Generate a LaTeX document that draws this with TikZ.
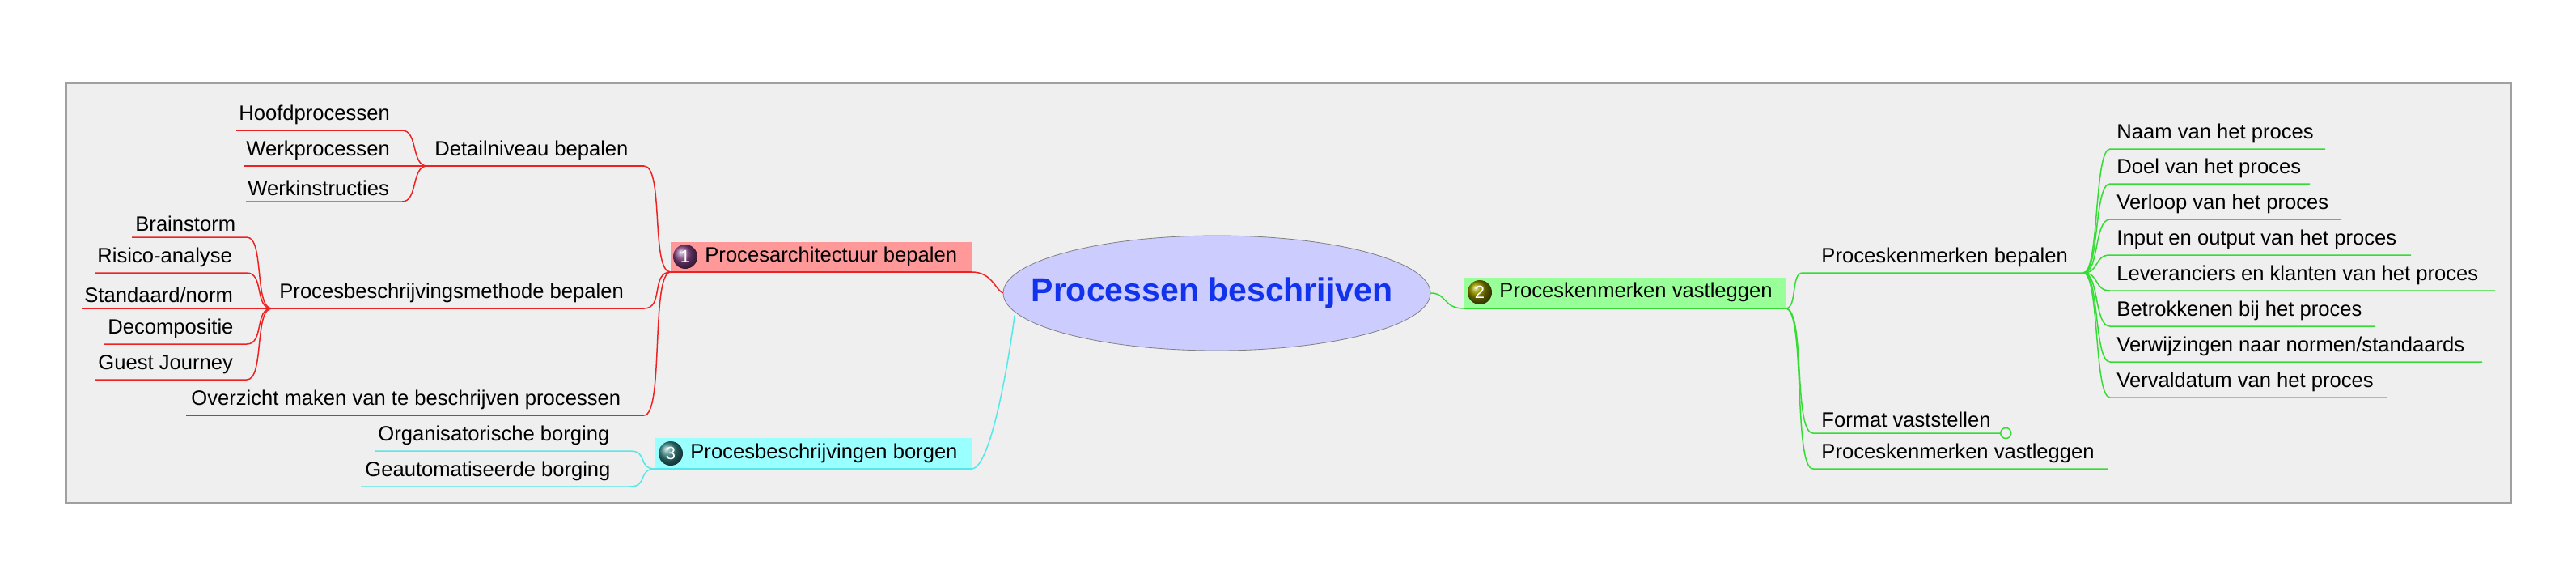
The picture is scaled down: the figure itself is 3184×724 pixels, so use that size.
\documentclass[tikz,border=0pt]{standalone}
\usepackage{fontspec}
\usetikzlibrary{shapes.geometric}
\setmainfont{Liberation Sans}
\definecolor{bg}{HTML}{EFEFEF}
\definecolor{frame}{HTML}{A0A0A0}
\definecolor{cred}{HTML}{EE2222}
\definecolor{cgreen}{HTML}{33DD33}
\definecolor{ccyan}{HTML}{55E8E8}
\definecolor{fred}{HTML}{FF9999}
\definecolor{fgreen}{HTML}{99FF99}
\definecolor{fcyan}{HTML}{99FFFF}
\definecolor{ctitle}{HTML}{1133EE}
\definecolor{fell}{HTML}{CCCCFF}
\begin{document}
\begin{tikzpicture}[x=0.5pt,y=-0.5pt,
  lbl/.style={font=\fontsize{12.8}{14}\selectfont,inner sep=0pt,anchor=south west},
  rl/.style={draw=cred,line width=0.75pt},
  gl/.style={draw=cgreen,line width=0.75pt},
  cl/.style={draw=ccyan,line width=0.75pt},
  icon/.style={circle,minimum size=15pt,inner sep=0pt,text=white,font=\fontsize{11}{11}\selectfont}]
\useasboundingbox (0,0) rectangle (3184,724);
\draw[fill=bg,draw=frame,line width=1.5pt] (81,102) rectangle (3103,621);
% central
\node[ellipse,draw=gray,fill=fell,minimum width=264pt,minimum height=71pt,inner sep=0pt] (root) at (1504,362) {};
\node[text=ctitle,font=\bfseries\fontsize{20.5}{24}\selectfont] (roottxt) at (1498,362) {Processen beschrijven};
% main topics
\fill[fred] (829,299) rectangle (1201,336);
\node[icon,ball color=violet!50!gray] (i1) at (847,317) {1};
\node[lbl] (t1) at (871,329) {Procesarchitectuur bepalen};
\coordinate (a1L) at (829,336); \coordinate (a1R) at (1201,336);
\draw[rl] (a1L) -- (a1R);
\draw[rl] (a1R) .. controls +(25,0) and +(-10,-5) .. (root.west);
\fill[fgreen] (1809,343) rectangle (2207,381);
\node[icon,ball color=olive!80!gray] (i2) at (1829,361) {2};
\node[lbl] (t2) at (1853,373) {Proceskenmerken vastleggen};
\coordinate (a2L) at (1809,381); \coordinate (a2R) at (2207,381);
\draw[gl] (a2L) -- (a2R);
\draw[gl] (root.east) .. controls +(20,0) and +(-25,0) .. (a2L);
\fill[fcyan] (810,541) rectangle (1201,579);
\node[icon,ball color=teal!60!gray] (i3) at (829,560) {3};
\node[lbl] (t3) at (853,572) {Procesbeschrijvingen borgen};
\coordinate (a3L) at (810,579); \coordinate (a3R) at (1201,579);
\draw[cl] (a3L) -- (a3R);
\coordinate (rootsw) at (1254,390);
\draw[cl] (a3R) .. controls +(25,0) and +(-5,40) .. (rootsw);
% level 2 left (red)
\coordinate (dL) at (528,205); \coordinate (dR) at (796,205);
\node[lbl] (dt) at (537,198) {Detailniveau bepalen};
\draw[rl] (dL) -- (dR); \draw[rl] (dR) .. controls +(25,0) and +(-25,0) .. (a1L);
\coordinate (pL) at (336,381); \coordinate (pR) at (796,381);
\node[lbl] (pt) at (345,374) {Procesbeschrijvingsmethode bepalen};
\draw[rl] (pL) -- (pR); \draw[rl] (pR) .. controls +(25,0) and +(-25,0) .. (a1L);
\coordinate (oL) at (230,513); \coordinate (oR) at (796,513);
\node[lbl] (ot) at (236,506) {Overzicht maken van te beschrijven processen};
\draw[rl] (oL) -- (oR); \draw[rl] (oR) .. controls +(25,0) and +(-25,0) .. (a1L);
% level 3 detail
\foreach \n/\y/\xl/\xr/\tx/\t in {h/161/292/497/295/Hoofdprocessen, w/205/301/528/304/Werkprocessen, k/249/304/497/306/Werkinstructies}{
  \coordinate (\n L) at (\xl,\y); \coordinate (\n R) at (\xr,\y);
  \node[lbl] (\n t) at (\tx,\y-7) {\t};
  \draw[rl] (\n L) -- (\n R) .. controls +(20,0) and +(-20,0) .. (dL);
}
\foreach \n/\y/\xl/\tx/\t in {b/293/163/167/{Brainstorm}, r/337/117/120/{Risico-analyse}, s/381/101/104/{Standaard/norm}, c/425/129/133/{Decompositie}, g/469/117/121/{Guest Journey}}{
  \coordinate (\n L) at (\xl,\y); \coordinate (\n R) at (305,\y);
  \node[lbl] (\n t) at (\tx,\y-7) {\t};
  \draw[rl] (\n L) -- (\n R) .. controls +(22,0) and +(-22,0) .. (pL);
}
% level 2 cyan
\foreach \n/\y/\xl/\tx/\t in {og/557/463/467/{Organisatorische borging}, ga/601/446/451/{Geautomatiseerde borging}}{
  \coordinate (\n L) at (\xl,\y); \coordinate (\n R) at (779,\y);
  \node[lbl] (\n t) at (\tx,\y-7) {\t};
  \draw[cl] (\n L) -- (\n R) .. controls +(22,0) and +(-22,0) .. (a3L);
}
% right side green
\coordinate (kL) at (2228,337); \coordinate (kR) at (2575,337);
\node[lbl] (kt) at (2251,330) {Proceskenmerken bepalen};
\draw[gl] (a2R) .. controls +(15,0) and +(-15,0) .. (kL) -- (kR);
\coordinate (fL) at (2241,535); \coordinate (fR) at (2472,535);
\node[lbl] (ft) at (2251,528) {Format vaststellen};
\draw[gl] (a2R) .. controls +(25,0) and +(-25,0) .. (fL) -- (fR);
\node[circle,draw=cgreen,fill=bg,line width=0.75pt,minimum size=6.5pt,inner sep=0pt,anchor=west] (fc) at (fR) {};
\coordinate (vL) at (2241,579); \coordinate (vR) at (2605,579);
\node[lbl] (vt) at (2251,572) {Proceskenmerken vastleggen};
\draw[gl] (a2R) .. controls +(25,0) and +(-25,0) .. (vL) -- (vR);
\foreach \n/\y/\xr/\t in {n1/184/2874/{Naam van het proces}, n2/227/2855/{Doel van het proces}, n3/271/2894/{Verloop van het proces}, n4/315/2980/{Input en output van het proces}, n5/359/3084/{Leveranciers en klanten van het proces}, n6/403/2936/{Betrokkenen bij het proces}, n7/447/3068/{Verwijzingen naar normen/standaards}, n8/491/2951/{Vervaldatum van het proces}}{
  \coordinate (\n L) at (2608,\y); \coordinate (\n R) at (\xr,\y);
  \node[lbl] (\n t) at (2616,\y-7) {\t};
  \draw[gl] (kR) .. controls +(20,0) and +(-20,0) .. (\n L) -- (\n R);
}
\end{tikzpicture}
\end{document}
